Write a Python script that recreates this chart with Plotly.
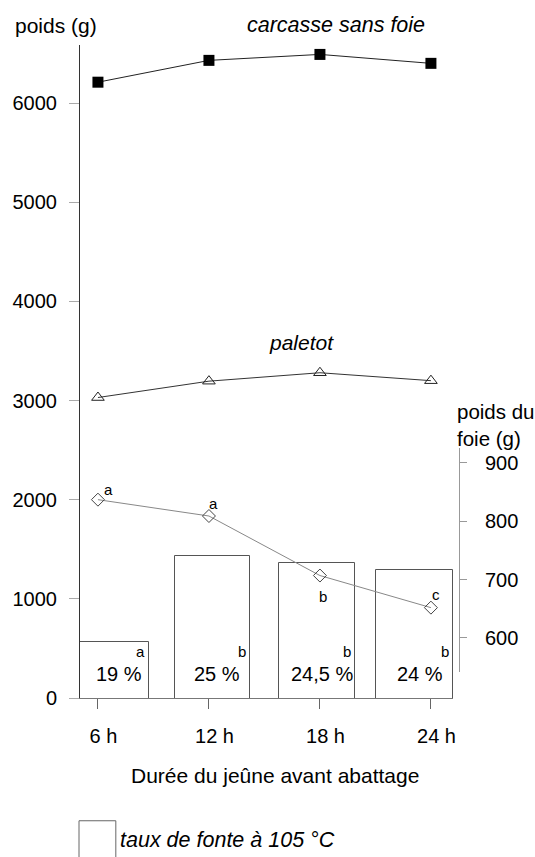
import plotly.graph_objects as go

# ---- data ----
hours = [6, 12, 18, 24]
hour_labels = ["6 h", "12 h", "18 h", "24 h"]
carcasse = [6210, 6430, 6490, 6400]          # poids carcasse sans foie (g)
paletot = [3030, 3195, 3280, 3200]           # poids paletot (g)
foie = [837, 809, 707, 652]                  # poids du foie (g), right axis
foie_letters = ["a", "a", "b", "c"]
fonte = [19, 25, 24.5, 24]                   # taux de fonte à 105 °C (%)
fonte_labels = ["19 %", "25 %", "24,5 %", "24 %"]
fonte_letters = ["a", "b", "b", "b"]

# ---- bar styling (width / offset in hours) ----
bar_width = [3.71, 4.08, 4.12, 4.14]
bar_offset = [-0.97, -1.86, -2.22, -2.95]

FONT = "Liberation Sans, Arial, Helvetica, sans-serif"
NB = "\u00a0"

fig = go.Figure()

fig.add_trace(go.Bar(
    x=hours, y=fonte, xaxis="x", yaxis="y3",
    width=bar_width, offset=bar_offset,
    marker=dict(color="rgba(255,255,255,0)", line=dict(color="#555", width=1)),
    showlegend=False, hoverinfo="skip",
))

fig.add_trace(go.Scatter(
    x=hours, y=foie, xaxis="x", yaxis="y2", mode="lines+markers",
    line=dict(color="#888", width=1),
    marker=dict(symbol="diamond-open", size=10, color="#444", line=dict(width=1)),
    showlegend=False,
))

fig.add_trace(go.Scatter(
    x=hours, y=paletot, xaxis="x", yaxis="y", mode="lines+markers",
    line=dict(color="#333", width=1),
    marker=dict(symbol="triangle-up-open", size=11, color="#222", line=dict(width=1)),
    showlegend=False,
))

fig.add_trace(go.Scatter(
    x=hours, y=carcasse, xaxis="x", yaxis="y", mode="lines+markers",
    line=dict(color="#222", width=1),
    marker=dict(symbol="square", size=11, color="black"),
    showlegend=False,
))

annotations = []
# letters next to liver points
liver_shift = [(11, 10), (5, 13), (3, -21), (5, 13)]
for h, v, t, (dx, dy) in zip(hours, foie, foie_letters, liver_shift):
    annotations.append(dict(x=h, y=v, xref="x", yref="y2", text=t, showarrow=False,
                            xshift=dx, yshift=dy, font=dict(size=15, color="black")))
# bar labels
for h, o, w, lab, let in zip(hours, bar_offset, bar_width, fonte_labels, fonte_letters):
    annotations.append(dict(x=h + o + w / 2, y=0, xref="x", yref="y", text=lab,
                            showarrow=False, xshift=5, yshift=24,
                            font=dict(size=20, color="black")))
    annotations.append(dict(x=h + o + w, y=0, xref="x", yref="y", text=let,
                            showarrow=False, xanchor="right", xshift=-2, yshift=47,
                            font=dict(size=15, color="black")))

annotations += [
    dict(text="poids (g)", x=-0.176, y=1.0306, xref="paper", yref="paper",
         xanchor="left", yanchor="middle", showarrow=False, font=dict(size=21)),
    dict(text="<i>carcasse sans foie</i>", x=0.6745, y=1.0306, xref="paper", yref="paper",
         xanchor="center", yanchor="middle", showarrow=False, font=dict(size=21.5)),
    dict(text="<i>paletot</i>", x=0.585, y=0.545, xref="paper", yref="paper",
         xanchor="center", yanchor="middle", showarrow=False, font=dict(size=21)),
    dict(text="poids du<br>foie (g)", x=0.9895, y=0.418, xref="paper", yref="paper",
         xanchor="left", yanchor="middle", align="left", showarrow=False, font=dict(size=20.5)),
    dict(text="Durée du jeûne avant abattage", x=0.514, y=-0.118, xref="paper", yref="paper",
         xanchor="center", yanchor="middle", showarrow=False, font=dict(size=21)),
    dict(text="<i>taux de fonte à 105 °C</i>", x=0.0997, y=-0.2175, xref="paper", yref="paper",
         xanchor="left", yanchor="middle", showarrow=False, font=dict(size=21.5)),
]

fig.update_layout(
    width=535, height=857, autosize=False,
    margin=dict(l=78, r=76, t=45, b=159, pad=0),
    paper_bgcolor="white", plot_bgcolor="rgba(0,0,0,0)",
    font=dict(family=FONT, size=20, color="black"),
    showlegend=False,
    bargap=0,
    xaxis=dict(
        domain=[0, 0.984], range=[5.03, 25.19], anchor="y",
        tickvals=hours, ticktext=[NB * 2 + s for s in hour_labels],
        ticks="outside", ticklen=10, tickcolor="#666", tickwidth=1,
        showline=True, linecolor="#777", linewidth=1,
        showgrid=False, zeroline=False, ticklabelstandoff=10,
        tickfont=dict(size=20),
    ),
    yaxis=dict(
        range=[0, 6585], tickvals=[0, 1000, 2000, 3000, 4000, 5000, 6000],
        ticks="outside", ticklen=10, tickcolor="#aaa", tickwidth=1,
        showline=True, linecolor="#333", linewidth=1,
        showgrid=False, zeroline=False, ticklabelstandoff=8,
        tickfont=dict(size=20),
    ),
    yaxis2=dict(
        domain=[0.0398, 0.383], range=[541.7, 925.7], anchor="free", position=1,
        side="right", tickvals=[600, 700, 800, 900],
        ticks="outside", ticklen=7, tickcolor="#999", tickwidth=1,
        showline=True, linecolor="#999", linewidth=1,
        showgrid=False, zeroline=False, ticklabelstandoff=14,
        tickfont=dict(size=20),
    ),
    yaxis3=dict(range=[15.12, 60.47], overlaying="y", visible=False),
    annotations=annotations,
    shapes=[dict(type="rect", xref="paper", yref="paper", x0=-0.0026, x1=0.0945,
                 y0=-0.26, y1=-0.188, line=dict(color="#666", width=1),
                 fillcolor="rgba(0,0,0,0)")],
)

fig.write_html("out.html", config={"displayModeBar": False},
               post_script="document.body.style.margin='0';")
